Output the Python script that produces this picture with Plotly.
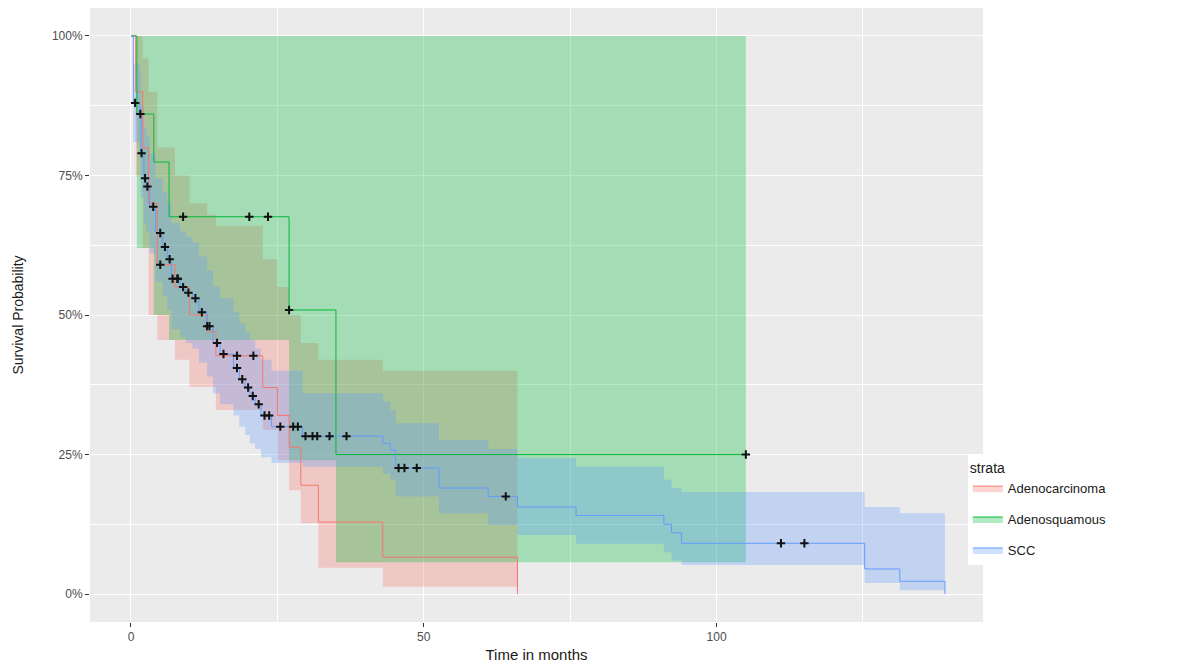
import numpy as np
import plotly.graph_objects as go

# ---------------- data ----------------
groups = ["Adenocarcinoma", "Adenosquamous", "SCC"]
line_colors = {"Adenocarcinoma": "#F8766D", "Adenosquamous": "#00BA38", "SCC": "#619CFF"}
fill_colors = {"Adenocarcinoma": "rgba(248,118,109,0.3)",
               "Adenosquamous": "rgba(0,186,56,0.3)",
               "SCC": "rgba(97,156,255,0.3)"}

# Adenocarcinoma
adeno_t = [0, 0.8, 2.0, 3.0, 4.5, 7.5, 10.0, 13.0, 14.5, 22.5, 25.0, 27.0, 29.0, 32.0, 43.0, 66.0]
adeno_s = [1.0, 0.90, 0.80, 0.70, 0.59, 0.55, 0.50, 0.47, 0.427, 0.37, 0.32, 0.263, 0.195, 0.129, 0.066, 0.0]
adeno_lo = [1.0, 0.75, 0.62, 0.50, 0.455, 0.42, 0.371, 0.371, 0.33, 0.294, 0.24, 0.186, 0.127, 0.047, 0.013, 0.013]
adeno_up = [1.0, 1.0, 0.96, 0.90, 0.80, 0.75, 0.70, 0.68, 0.66, 0.60, 0.55, 0.50, 0.45, 0.42, 0.40, 0.40]
adeno_cens = [5.0, 18.1, 20.9]

# Adenosquamous
adsq_t = [0, 1.0, 3.9, 6.5, 27.0, 35.0, 105.0]
adsq_s = [1.0, 0.86, 0.774, 0.676, 0.509, 0.25, 0.25]
adsq_lo = [1.0, 0.62, 0.50, 0.455, 0.24, 0.057, 0.057]
adsq_up = [1.0, 1.0, 1.0, 1.0, 1.0, 1.0, 1.0]
adsq_cens = [8.9, 20.2, 23.4, 27.0, 105.0]

# SCC
scc_t = [0, 0.4, 1.5, 1.7, 2.2, 2.6, 3.2, 4.2, 5.4, 6.2, 6.9, 8.4, 9.4, 10.5, 11.6, 13.0,
         14.0, 15.2, 17.5, 18.5, 19.5, 20.3, 21.2, 22.2, 24.0, 29.3, 43.0, 44.3, 45.2,
         52.6, 61.0, 66.0, 76.0, 91.0, 92.3, 94.0, 125.3, 131.3, 139.0]
scc_s = [1.0, 0.88, 0.86, 0.79, 0.745, 0.73, 0.694, 0.647, 0.622, 0.60, 0.565, 0.55, 0.54,
         0.53, 0.505, 0.48, 0.45, 0.43, 0.405, 0.385, 0.37, 0.355, 0.34, 0.32, 0.30, 0.283,
         0.27, 0.258, 0.226, 0.19, 0.175, 0.156, 0.141, 0.125, 0.11, 0.091, 0.045, 0.023, 0.0]
scc_up = [1.0, 0.95, 0.935, 0.875, 0.835, 0.82, 0.79, 0.745, 0.72, 0.70, 0.665, 0.65, 0.64,
          0.63, 0.605, 0.58, 0.55, 0.53, 0.505, 0.485, 0.47, 0.455, 0.44, 0.42, 0.40, 0.36,
          0.345, 0.33, 0.306, 0.276, 0.26, 0.244, 0.228, 0.205, 0.19, 0.183, 0.156, 0.145, 0.145]
scc_lo = [1.0, 0.81, 0.79, 0.71, 0.665, 0.65, 0.61, 0.56, 0.535, 0.51, 0.475, 0.46, 0.45,
          0.44, 0.415, 0.39, 0.36, 0.34, 0.32, 0.30, 0.285, 0.27, 0.26, 0.245, 0.235, 0.228,
          0.215, 0.205, 0.175, 0.145, 0.124, 0.106, 0.09, 0.075, 0.06, 0.052, 0.02, 0.007, 0.007]
scc_cens = [0.7, 1.6, 1.8, 2.4, 2.8, 3.8, 5.0, 5.8, 6.6, 7.9, 7.1, 8.0, 8.9, 9.8, 11.0, 12.1,
            13.0, 13.4, 14.7, 15.8, 18.1, 19.0, 20.0, 20.8, 21.8, 22.8, 23.6, 25.5, 27.7,
            28.5, 29.8, 31.0, 31.8, 33.9, 36.8, 45.7, 46.7, 48.8, 64.0, 111.0, 115.0]

x_ticks = [0, 50, 100]
y_ticks = [0, 0.25, 0.5, 0.75, 1.0]
y_tick_labels = ["0%", "25%", "50%", "75%", "100%"]

data = {
    "Adenocarcinoma": (adeno_t, adeno_s, adeno_lo, adeno_up, adeno_cens),
    "Adenosquamous": (adsq_t, adsq_s, adsq_lo, adsq_up, adsq_cens),
    "SCC": (scc_t, scc_s, scc_lo, scc_up, scc_cens),
}


def surv_at(ts, ss, t):
    idx = np.searchsorted(np.asarray(ts), t, side="right") - 1
    return np.asarray(ss)[idx]


fig = go.Figure()

# confidence ribbons
for g in groups:
    t, s, lo, up, cens = data[g]
    fig.add_trace(go.Scatter(x=t, y=lo, mode="lines", line=dict(width=0, shape="hv"),
                             hoverinfo="skip", showlegend=False))
    fig.add_trace(go.Scatter(x=t, y=up, mode="lines", line=dict(width=0, shape="hv"),
                             fill="tonexty", fillcolor=fill_colors[g],
                             hoverinfo="skip", showlegend=False))

# survival curves
for g in groups:
    t, s, lo, up, cens = data[g]
    fig.add_trace(go.Scatter(x=t, y=s, mode="lines",
                             line=dict(color=line_colors[g], width=1, shape="hv"),
                             showlegend=False))

# censor marks
for g in groups:
    t, s, lo, up, cens = data[g]
    fig.add_trace(go.Scatter(x=cens, y=surv_at(t, s, cens), mode="markers",
                             marker=dict(symbol="cross-thin", size=6,
                                         line=dict(color="#111111", width=2)),
                             showlegend=False))

# legend entries
for g in groups:
    fig.add_trace(go.Scatter(x=[None], y=[None], mode="lines", name=g, legendgroup=g,
                             fill="toself", fillcolor=fill_colors[g],
                             line=dict(color=line_colors[g], width=1)))

font_family = "Liberation Sans, Arial, sans-serif"
fig.update_layout(
    width=1204, height=668, autosize=False,
    margin=dict(l=90, r=221, t=8, b=46),
    paper_bgcolor="white", plot_bgcolor="#EBEBEB",
    font=dict(family=font_family, color="#4D4D4D"),
    legend=dict(
        title=dict(text="strata", font=dict(size=14, color="#1A1A1A")),
        font=dict(size=13, color="#1A1A1A"),
        x=0.983, xanchor="left", y=0.272, yanchor="top",
        bgcolor="white", traceorder="grouped", tracegroupgap=11,
    ),
    xaxis=dict(
        range=[-7, 145.5], tickvals=x_ticks, ticktext=[str(v) for v in x_ticks],
        showgrid=True, gridcolor="white", gridwidth=1.2, zeroline=False,
        ticks="outside", ticklen=4, tickcolor="#333333", tickwidth=1,
        tickfont=dict(size=12, color="#4D4D4D"),
        minor=dict(tickvals=[25, 75, 125], showgrid=True, gridcolor="white", gridwidth=0.5),
        title=dict(text="Time in months", font=dict(size=15, color="#1A1A1A"), standoff=6),
        showline=False,
    ),
    yaxis=dict(
        range=[-0.05, 1.05], tickvals=y_ticks, ticktext=y_tick_labels,
        showgrid=True, gridcolor="white", gridwidth=1.2, zeroline=False,
        ticks="outside", ticklen=4, tickcolor="#333333", tickwidth=1,
        tickfont=dict(size=12, color="#4D4D4D"),
        minor=dict(tickvals=[0.125, 0.375, 0.625, 0.875], showgrid=True,
                   gridcolor="white", gridwidth=0.5),
        title=dict(text="Survival Probability", font=dict(size=14, color="#1A1A1A"), standoff=24),
        showline=False,
    ),
)

fig.write_html("out.html")
